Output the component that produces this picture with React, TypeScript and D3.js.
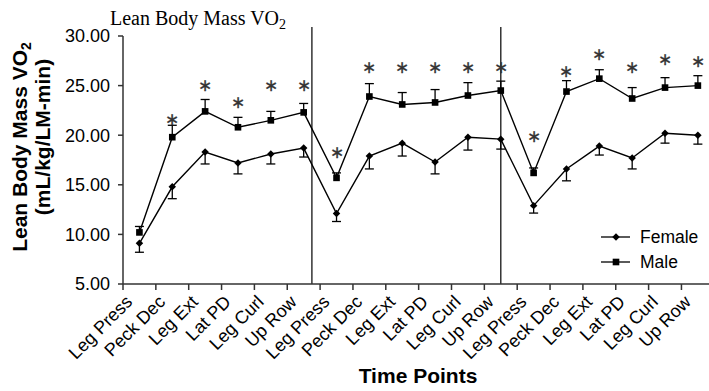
import React from "react";
import * as d3 from "d3";

const timePoints = [
  "Leg Press", "Peck Dec", "Leg Ext", "Lat PD", "Leg Curl", "Up Row",
  "Leg Press", "Peck Dec", "Leg Ext", "Lat PD", "Leg Curl", "Up Row",
  "Leg Press", "Peck Dec", "Leg Ext", "Lat PD", "Leg Curl", "Up Row",
];
const female = [9.1, 14.8, 18.3, 17.2, 18.1, 18.7, 12.1, 17.9, 19.2, 17.3, 19.8, 19.6, 12.9, 16.6, 18.9, 17.7, 20.2, 20.0];
const femaleErr = [0.9, 1.2, 1.2, 1.1, 1.0, 0.9, 0.8, 1.3, 1.3, 1.2, 1.3, 1.0, 0.75, 1.2, 0.9, 1.1, 1.0, 0.9];
const male = [10.2, 19.8, 22.4, 20.8, 21.5, 22.3, 15.7, 23.9, 23.1, 23.3, 24.0, 24.5, 16.2, 24.4, 25.7, 23.7, 24.8, 25.0];
const maleErr = [0.6, 1.2, 1.2, 1.0, 0.9, 0.9, 0.5, 1.3, 1.2, 1.3, 1.3, 0.95, 0.5, 1.1, 0.9, 1.1, 1.0, 1.0];
// where the significance stars sit (in mL/kg/LM-min), none on the first point
const starLevel = [null, 21.5, 25.0, 23.2, 25.0, 25.0, 18.2, 26.8, 26.8, 26.8, 26.8, 26.8, 19.8, 26.4, 28.1, 26.8, 27.6, 27.4];
const yTicks = [5, 10, 15, 20, 25, 30];
// vertical separators, in band units from the left of the axis
const separators = [5.75, 11.5];

const width = 709;
const height = 391;
const margin = { left: 123, top: 36, bottom: 107 };
const bandW = 32.85;

export default function App() {
  const plotBottom = height - margin.bottom;
  const x = d3.scaleBand<number>()
    .domain(d3.range(timePoints.length))
    .range([margin.left, margin.left + bandW * timePoints.length])
    .padding(0);
  const xLin = d3.scaleLinear().domain([0, timePoints.length]).range([margin.left, margin.left + bandW * timePoints.length]);
  const y = d3.scaleLinear().domain([5, 30]).range([plotBottom, margin.top]);
  const cx = (i: number) => (x(i) as number) + x.bandwidth() / 2;

  const line = d3.line<number>().x((d, i) => cx(i)).y(d => y(d));
  const diamond = d3.symbol().type(d3.symbolSquare).size(28)();
  const square = d3.symbol().type(d3.symbolSquare).size(44)();
  const cap = 4.5;
  const sans = "Arial, 'Liberation Sans', sans-serif";
  const serif = "'Times New Roman', 'Liberation Serif', serif";

  return (
    <svg width={width} height={height} style={{ position: "absolute", left: 0, top: 0, background: "#fff" }}>
      {/* title */}
      <text x={110} y={25} fontFamily={serif} fontSize={20} fill="#000">
        Lean Body Mass VO<tspan fontSize={14} dy={4}>2</tspan>
      </text>

      {/* y axis title */}
      <text transform={`translate(27,147) rotate(-90)`} textAnchor="middle" fontFamily={sans} fontWeight="bold" fontSize={21}>
        Lean Body Mass VO<tspan fontSize={14} dy={4}>2</tspan>
      </text>
      <text transform={`translate(50,137) rotate(-90)`} textAnchor="middle" fontFamily={sans} fontWeight="bold" fontSize={21}>
        (mL/kg/LM-min)
      </text>

      {/* y axis */}
      <line x1={margin.left} x2={margin.left} y1={y(30)} y2={plotBottom} stroke="#333" strokeWidth={1.5} />
      {yTicks.map(t => (
        <g key={t}>
          <line x1={margin.left - 5} x2={margin.left} y1={y(t)} y2={y(t)} stroke="#333" strokeWidth={1.5} />
          <text x={margin.left - 13} y={y(t)} dy="0.36em" textAnchor="end" fontFamily={sans} fontSize={18}>
            {d3.format(".2f")(t)}
          </text>
        </g>
      ))}

      {/* x axis */}
      <line x1={margin.left} x2={width} y1={plotBottom} y2={plotBottom} stroke="#333" strokeWidth={1.5} />
      {d3.range(timePoints.length + 1).map(i => (
        <line key={i} x1={xLin(i)} x2={xLin(i)} y1={plotBottom} y2={plotBottom + 6} stroke="#333" strokeWidth={1.5} />
      ))}
      {timePoints.map((t, i) => (
        <text key={i} transform={`translate(${cx(i) - 6},${plotBottom + 19}) rotate(-45)`} textAnchor="end"
          fontFamily={sans} fontSize={18}>
          {t}
        </text>
      ))}
      <text x={418} y={383} textAnchor="middle" fontFamily={sans} fontWeight="bold" fontSize={21}>Time Points</text>

      {/* separators */}
      {separators.map(s => (
        <line key={s} x1={xLin(s)} x2={xLin(s)} y1={y(30.9)} y2={plotBottom} stroke="#333" strokeWidth={1.5} />
      ))}

      {/* error bars: male up, female down */}
      {male.map((v, i) => (
        <g key={"me" + i} stroke="#000" strokeWidth={1.3}>
          <line x1={cx(i)} x2={cx(i)} y1={y(v)} y2={y(v + maleErr[i])} />
          <line x1={cx(i) - cap} x2={cx(i) + cap} y1={y(v + maleErr[i])} y2={y(v + maleErr[i])} />
        </g>
      ))}
      {female.map((v, i) => (
        <g key={"fe" + i} stroke="#000" strokeWidth={1.3}>
          <line x1={cx(i)} x2={cx(i)} y1={y(v)} y2={y(v - femaleErr[i])} />
          <line x1={cx(i) - cap} x2={cx(i) + cap} y1={y(v - femaleErr[i])} y2={y(v - femaleErr[i])} />
        </g>
      ))}

      {/* lines */}
      <path d={line(male) || ""} fill="none" stroke="#000" strokeWidth={1.4} />
      <path d={line(female) || ""} fill="none" stroke="#000" strokeWidth={1.4} />
      {male.map((v, i) => (
        <path key={"m" + i} d={square || ""} transform={`translate(${cx(i)},${y(v)})`} fill="#000" />
      ))}
      {female.map((v, i) => (
        <path key={"f" + i} d={diamond || ""} transform={`translate(${cx(i)},${y(v)}) rotate(45)`} fill="#000" />
      ))}

      {/* stars */}
      {starLevel.map((s, i) => s == null ? null : (
        <text key={"s" + i} x={cx(i)} y={y(s) + 5} textAnchor="middle"
          fontFamily="'Liberation Serif', serif" fontSize={17} fill="#333" stroke="#333" strokeWidth={0.3}>∗</text>
      ))}

      {/* legend */}
      <g fontFamily={sans} fontSize={17.5}>
        <line x1={601} x2={630} y1={237} y2={237} stroke="#000" strokeWidth={1.3} />
        <path d={diamond || ""} transform={`translate(616,237) rotate(45)`} fill="#000" />
        <text x={640} y={237} dy="0.36em">Female</text>
        <line x1={601} x2={630} y1={262} y2={262} stroke="#000" strokeWidth={1.3} />
        <path d={square || ""} transform={`translate(616,262)`} fill="#000" />
        <text x={640} y={262} dy="0.36em">Male</text>
      </g>
    </svg>
  );
}
